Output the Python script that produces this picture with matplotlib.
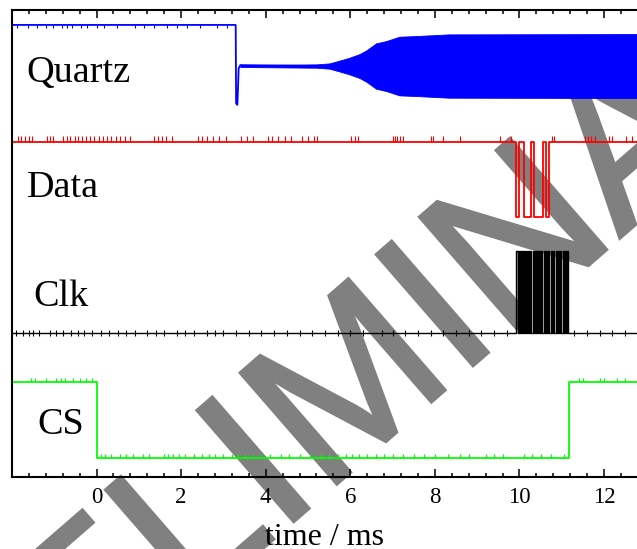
import numpy as np
import matplotlib.pyplot as plt
import matplotlib.patheffects as pe

# quartz trace (relative units): step, dip, then growing oscillation envelope
quartz_t = [-2.0, 3.29, 3.30, 3.33, 3.36, 3.40, 5.20]
quartz_v = [0.88, 0.88, -0.80, -0.83, -0.05, 0.02, 0.0]
quartz_spikes = [-1.87, -1.63, -1.40, -1.20, -1.04, -0.81, -0.69, -0.57, -0.38, -0.22,
                 0.02, 0.17, 0.49, 0.92, 1.11, 1.35, 1.66, 1.90, 2.13, 2.45, 2.84, 3.08]
env_t = [3.40, 5.20, 5.51, 5.71, 5.98, 6.22, 6.38, 6.61, 6.85, 7.16, 7.55, 8.33, 12.8]
env_a = [0.02, 0.036, 0.057, 0.107, 0.178, 0.257, 0.336, 0.486, 0.535, 0.628, 0.642, 0.678, 0.685]

# data line (logic level)
data_t = [-2.0, 9.92, 9.98, 10.11, 10.27, 10.34, 10.55, 10.63, 10.70, 12.8]
data_v = [1, 0, 1, 0, 1, 0, 1, 0, 1, 1]
data_spikes = [-1.85, -1.78, -1.70, -1.60, -1.52, -1.18, -1.10, -1.03, -0.80, -0.70, -0.62,
               -0.52, -0.43, -0.35, -0.25, -0.15, -0.05, 0.05, 0.15, 0.25, 0.35, 0.45, 0.55,
               0.68, 0.80, 1.35, 1.45, 1.55, 1.65, 1.78, 2.40, 2.50, 2.62, 2.75, 2.90, 3.05,
               3.42, 3.55, 3.70, 4.05, 4.15, 4.30, 4.45, 4.60, 4.85, 5.00, 5.15, 5.22, 6.02,
               6.10, 6.18, 7.00, 7.05, 7.10, 7.18, 7.25, 7.90, 7.95, 8.20, 8.60, 9.55, 9.80,
               10.78, 10.82, 11.55, 11.62, 11.70, 11.78, 12.12, 12.18, 12.52, 12.66]

# clock pulses (three bytes)
clk_rise = [9.93, 9.975, 10.02, 10.065, 10.11, 10.155, 10.20, 10.245,
            10.32, 10.37, 10.42, 10.47, 10.52, 10.57, 10.62, 10.67,
            10.75, 10.80, 10.855, 10.91, 10.965, 11.02, 11.07, 11.12]
clk_fall = [9.955, 10.0, 10.045, 10.09, 10.135, 10.18, 10.225, 10.28,
            10.345, 10.395, 10.445, 10.495, 10.545, 10.595, 10.645, 10.71,
            10.775, 10.825, 10.88, 10.935, 10.99, 11.045, 11.095, 11.16]
clk_spikes = [-1.9, -1.75, -1.6, -1.5, -1.35, -1.1, -0.95, -0.8, -0.6, -0.45, -0.3, -0.1,
              0.1, 0.3, 0.5, 0.7, 0.9, 1.2, 1.4, 1.6, 1.9, 2.1, 2.3, 2.6, 2.8, 3.0, 3.3,
              3.6, 3.9, 4.2, 4.5, 4.8, 5.1, 5.4, 5.7, 6.0, 6.3, 6.76, 7.0, 7.3, 7.6, 7.9,
              8.2, 8.5, 8.8, 9.1, 9.4, 9.7, 11.3, 11.6, 11.9, 12.2, 12.5]

# chip select
cs_t = [-2.0, 0.0, 11.18, 12.8]
cs_v = [1, 0, 1, 1]
cs_spikes = [-1.55, -1.45, -1.2, -0.95, -0.85, -0.75, -0.55, -0.4, -0.25, -0.1,
             0.1, 0.2, 0.35, 0.55, 0.7, 0.85, 1.1, 1.25, 1.6, 1.7, 1.8, 1.95, 2.1, 2.3,
             2.5, 2.65, 2.8, 3.0, 3.2, 3.35, 3.5, 3.7, 3.9, 4.1, 4.35, 4.55, 4.8, 5.05,
             5.3, 5.5, 5.7, 5.9, 6.05, 6.2, 6.4, 6.6, 6.8, 7.0, 7.25, 7.5, 7.75, 8.0, 8.3,
             8.6, 8.8, 9.2, 9.4, 9.6, 10.1, 10.3, 10.5, 10.75, 11.05,
             11.4, 11.5, 11.9, 12.0, 12.3, 12.5]

labels = ["Quartz", "Data", "Clk", "CS"]

plt.rcParams['font.family'] = ['Liberation Serif', 'DejaVu Serif']

fig = plt.figure(figsize=(6.37, 5.49), dpi=100)
ax = fig.add_axes([12/637, 1-477/549, 1-12/637, (477-10)/549])
ax.patch.set_alpha(0)

lw = 1.3
# quartz
q0 = 8.80
ax.plot(quartz_t, np.array(quartz_v)+q0, color="blue", lw=lw)
ax.vlines(quartz_spikes, q0+0.88-0.07, q0+0.88, color="blue", lw=0.8)
ax.fill_between(env_t, q0-np.array(env_a), q0+np.array(env_a), color="blue", lw=0.6)

# data
d0, ds = 5.57, 1.60
ax.step(data_t, d0+ds*np.array(data_v), where="post", color="red", lw=lw)
ax.vlines(data_spikes, d0+ds, d0+ds+0.13, color="red", lw=0.8)

# clk
c0, cs_ = 3.08, 1.76
ct = [-2.0]
cv = [0]
for r, f in zip(clk_rise, clk_fall):
    ct += [r, f]
    cv += [1, 0]
ct.append(12.8)
cv.append(0)
ax.step(ct, c0+cs_*np.array(cv), where="post", color="black", lw=1.0)
ax.vlines(clk_spikes, c0-0.06, c0+0.07, color="black", lw=0.8)

# cs
s0, ss = 0.41, 1.62
ax.step(cs_t, s0+ss*np.array(cs_v), where="post", color="#00ff00", lw=lw)
cs_base = [s0+ss*np.interp(t, [-2, -0.001, 0.001, 11.17, 11.19, 12.8], [1, 1, 0, 0, 1, 1]) for t in cs_spikes]
ax.vlines(cs_spikes, cs_base, np.array(cs_base)+0.09, color="#00ff00", lw=0.8)

# labels
lab_x = [-1.67, -1.64, -1.49, -1.39]
lab_y = [8.46, 6.00, 3.66, 0.92]
for s, x, y in zip(labels, lab_x, lab_y):
    ax.text(x, y, s, fontsize=27.5, va="baseline", ha="left")

ax.set_xlim(-2, 12.78)
ax.set_ylim(0, 10)
ax.set_xticks([0, 2, 4, 6, 8, 10, 12])
ax.set_xticks(np.arange(-1.6, 12.8, 0.4), minor=True)
ax.tick_params(axis="x", which="both", direction="in", top=True, bottom=True, labelsize=16.5, pad=7, width=1.1)
ax.tick_params(axis="x", which="major", length=6)
ax.tick_params(axis="x", which="minor", length=3)
ax.set_yticks([])
ax.spines["right"].set_visible(False)
for s in ["left", "top", "bottom"]:
    ax.spines[s].set_linewidth(1.5)
ax.set_xlabel("time / ms", fontsize=23, labelpad=11)

wm = fig.text(0.575, 0.299, "PRELIMINARY", fontsize=154, rotation=41, color="#808080",
              ha="center", va="center", family="Liberation Sans", zorder=-1)
wm.set_path_effects([pe.withStroke(linewidth=2.5, foreground="#808080", joinstyle="miter")])

fig.savefig("out.png", dpi=100)
